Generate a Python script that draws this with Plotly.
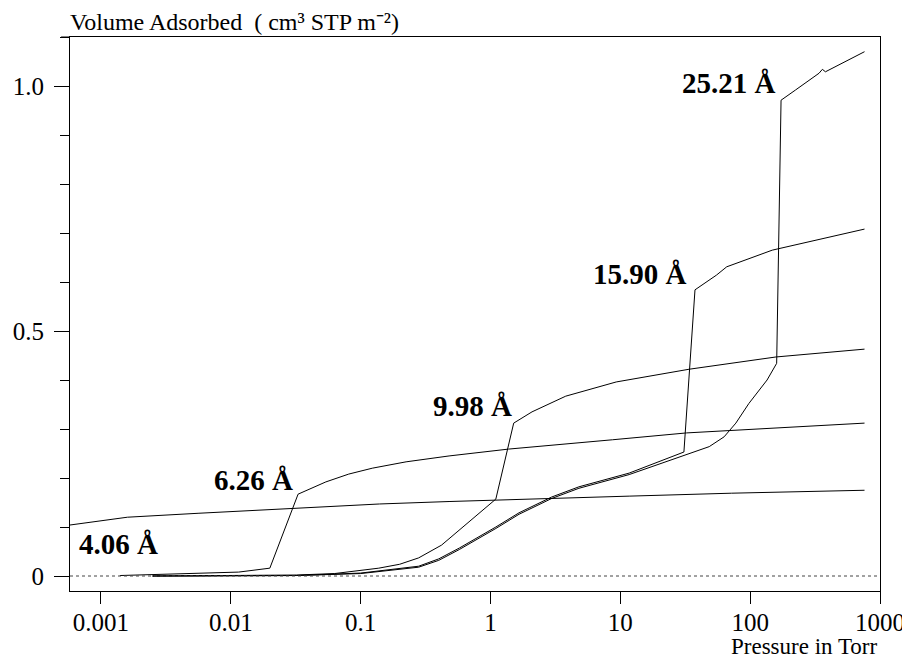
import math
import plotly.graph_objects as go

# pressure in Torr / volume adsorbed (cm3 STP m-2)
p_406 = [0.000575, 0.0016, 0.0056, 0.033, 0.14, 0.48, 2.95, 11.7, 72, 760]
v_406 = [0.104, 0.120, 0.128, 0.139, 0.147, 0.152, 0.159, 0.163, 0.169, 0.175]

p_626 = [0.0014, 0.0056, 0.0115, 0.020, 0.033, 0.054, 0.081, 0.123, 0.224, 0.48, 1.38, 8.7, 32.4, 760]
v_626 = [0.001, 0.006, 0.008, 0.016, 0.167, 0.192, 0.208, 0.220, 0.233, 0.245, 0.259, 0.278, 0.292, 0.312]

p_998 = [0.0025, 0.032, 0.063, 0.138, 0.20, 0.28, 0.42, 1.10, 1.51, 2.09, 3.8, 9.3, 33.9, 158, 760]
v_998 = [0.0, 0.002, 0.005, 0.016, 0.024, 0.037, 0.063, 0.157, 0.312, 0.335, 0.367, 0.396, 0.422, 0.447, 0.463]

p_1590 = [0.0025, 0.032, 0.10, 0.138, 0.28, 0.40, 0.575, 1.10, 1.66, 2.95, 4.8, 11.7, 30.9,
          37.6, 55, 66, 148, 760]
v_1590 = [0.0, 0.001, 0.006, 0.010, 0.020, 0.035, 0.057, 0.100, 0.129, 0.161, 0.182, 0.210, 0.253,
          0.584, 0.614, 0.631, 0.665, 0.708]

p_2521 = [0.0025, 0.032, 0.10, 0.138, 0.28, 0.40, 0.575, 1.10, 1.66, 2.95, 4.8, 11.7, 32.4,
          48.4, 63, 77.6, 97.7, 135, 160, 173, 224, 339, 360, 380, 760]
v_2521 = [0.0, 0.001, 0.005, 0.009, 0.018, 0.032, 0.054, 0.097, 0.126, 0.158, 0.179, 0.207, 0.247,
          0.264, 0.284, 0.312, 0.352, 0.400, 0.434, 0.971, 0.992, 1.026, 1.034, 1.029, 1.070]

pore_labels = ["4.06 Å", "6.26 Å", "9.98 Å", "15.90 Å", "25.21 Å"]
x_tickvals = [0.001, 0.01, 0.1, 1, 10, 100, 1000]
x_ticktext = ["0.001", "0.01", "0.1", "1", "10", "100", "1000"]
y_tickvals = [0, 0.5, 1.0]
y_ticktext = ["0", "0.5", "1.0"]

FONT = "Liberation Serif"

fig = go.Figure()
for p, v in [(p_406, v_406), (p_626, v_626), (p_998, v_998), (p_1590, v_1590), (p_2521, v_2521)]:
    fig.add_trace(go.Scatter(x=p, y=v, mode="lines",
                             line=dict(color="black", width=1), showlegend=False))

# label anchors (Torr, volume); log axis annotations need log10 x
label_pos = [(0.00065, 0.066, "left"), (0.031, 0.196, "right"), (1.53, 0.347, "right"),
             (34, 0.616, "right"), (164, 1.007, "right")]
for txt, (x, y, anc) in zip(pore_labels, label_pos):
    fig.add_annotation(x=math.log10(x), y=y, xref="x", yref="y", text="<b>%s</b>" % txt,
                       showarrow=False, xanchor=anc, yanchor="middle",
                       font=dict(family=FONT, size=29, color="black"))

fig.add_annotation(x=-0.0025, y=1.027, xref="paper", yref="paper",
                   text="Volume Adsorbed  ( cm³ STP m⁻²)",
                   showarrow=False, xanchor="left", yanchor="middle",
                   font=dict(family=FONT, size=24, color="black"))
fig.add_annotation(x=1.0, y=-0.0993, xref="paper", yref="paper",
                   text="Pressure in Torr", showarrow=False, xanchor="right", yanchor="middle",
                   font=dict(family=FONT, size=23, color="black"))

# dotted zero line and the little overhang of the top frame
fig.add_shape(type="line", xref="paper", yref="y", x0=0, x1=1, y0=0, y1=0,
              line=dict(color="#444", width=1, dash="dot"))
fig.add_shape(type="line", xref="paper", yref="paper", x0=-0.011, x1=0, y0=1, y1=1,
              line=dict(color="black", width=1))

fig.update_xaxes(type="log", range=[-3.238, 3.0], tickvals=x_tickvals, ticktext=x_ticktext,
                 ticks="outside", ticklen=12, tickcolor="black", showline=True, linecolor="black",
                 linewidth=1, mirror=True, showgrid=False, zeroline=False, automargin=False,
                 tickfont=dict(family=FONT, size=25, color="black"), ticklabelstandoff=-3)
fig.update_yaxes(range=[-0.0306, 1.1], tickvals=y_tickvals, ticktext=y_ticktext,
                 ticks="outside", ticklen=15, tickcolor="black", showline=True, linecolor="black",
                 linewidth=1, mirror=True, showgrid=False, zeroline=False, automargin=False,
                 minor=dict(dtick=0.1, ticks="outside", ticklen=9, tickcolor="black", showgrid=False),
                 tickfont=dict(family=FONT, size=25, color="black"), ticklabelstandoff=5)

# the page body adds an 8 px offset, so the figure is a bit smaller than the window
fig.update_layout(width=902, height=652, margin=dict(l=62, r=30, t=29, b=69),
                  plot_bgcolor="white", paper_bgcolor="white")

fig.write_html("out.html")
